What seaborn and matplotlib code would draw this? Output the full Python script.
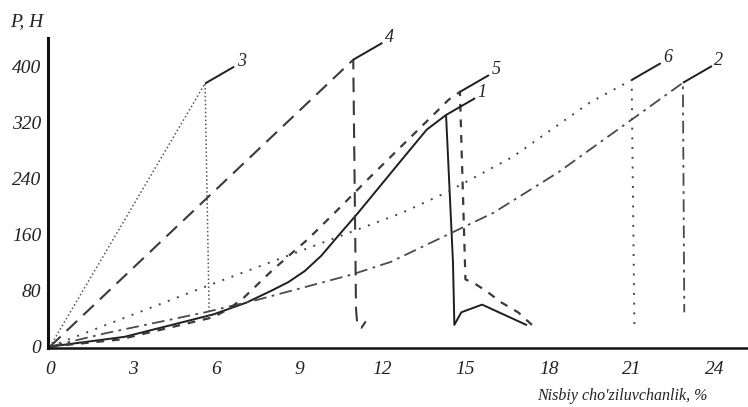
import numpy as np
import pandas as pd
import matplotlib
matplotlib.use("Agg")
import matplotlib.pyplot as plt
import seaborn as sns

# Load-elongation curves of six samples: elongation (%) and load P (N).
# Each series runs up to the break point and then drops.
x1 = [0, 2.7, 5.9, 7.1, 8.0, 8.6, 9.2, 9.8, 10.4, 11.1, 12.7, 13.6, 14.3,
      14.55, 14.6, 14.85, 15.6, 17.2]
p1 = [0, 14, 46, 63, 80, 92, 108, 130, 158, 190, 267, 310, 331,
      120, 31, 49, 60, 31]

x2 = [0, 2.0, 5.6, 7.5, 10.9, 12.3, 16.0, 18.35, 22.85, 22.9]
p2 = [0, 19, 49, 67, 103, 121, 191, 249, 377, 49]

x3 = [0, 5.6, 5.75]
p3 = [0, 376, 43]

x4 = [0, 10.95, 11.05, 11.1, 11.25, 11.4]
p4 = [0, 410, 53, 30, 27, 36]

x5 = [0, 2.5, 5.9, 6.5, 7.0, 7.5, 8.0, 8.6, 9.3, 10.4, 11.5, 14.4, 14.8,
      15.0, 15.3, 15.8, 16.3, 16.9, 17.4]
p5 = [0, 10, 42, 55, 70, 89, 108, 129, 153, 196, 240, 353, 364,
      96, 91, 78, 63, 49, 31]

x6 = [0, 5.5, 12.7, 14.3, 16.7, 19.5, 21.0, 21.1]
p6 = [0, 84, 191, 220, 271, 349, 381, 29]

curve_names = ["1", "2", "3", "4", "5", "6"]
x_ticks = [0, 3, 6, 9, 12, 15, 18, 21, 24]
y_ticks = [0, 80, 160, 240, 320, 400]
x_title = "Nisbiy cho'ziluvchanlik, %"
y_title = "P, H"

series = {"1": (x1, p1), "2": (x2, p2), "3": (x3, p3),
          "4": (x4, p4), "5": (x5, p5), "6": (x6, p6)}

# index of the peak (break) point of every curve
peak_idx = {k: int(np.argmax(v[1])) for k, v in series.items()}

styles = {
    "1": dict(color="#1e1e1e", lw=1.4, ls="-"),
    "2": dict(color="#4a4a4a", lw=1.3, ls=(0, (7, 3, 1.5, 3))),
    "3": dict(color="#555555", lw=1.1, ls=(0, (1, 1.6))),
    "4": dict(color="#3a3a3a", lw=1.5, ls=(0, (7, 4))),
    "5": dict(color="#3a3a3a", lw=1.6, ls=(0, (3.5, 3.5))),
    "6": dict(color="#444444", lw=1.4, ls=(0, (1, 4))),
}

sns.set_theme(style="white")
plt.rcParams["font.family"] = ["Liberation Serif", "DejaVu Serif"]

fig = plt.figure(figsize=(7.48, 4.07), dpi=100)
ax = fig.add_axes([48 / 748, 1 - 348 / 407, 700 / 748, 310 / 407])

frames = []
for name in curve_names:
    xs, ps = series[name]
    frames.append(pd.DataFrame({"x": xs, "P": ps, "curve": name}))
df = pd.concat(frames, ignore_index=True)

for name in curve_names:
    d = df[df["curve"] == name]
    st = styles[name]
    sns.lineplot(data=d, x="x", y="P", sort=False, estimator=None, ax=ax,
                 color=st["color"], linewidth=st["lw"], linestyle=st["ls"], legend=False)

# short solid leaders from the break point with the curve number
lead_dx, lead_dp = 1.05, 24
for name in curve_names:
    xs, ps = series[name]
    i = peak_idx[name]
    x0, y0 = xs[i], ps[i]
    ax.plot([x0, x0 + lead_dx], [y0, y0 + lead_dp], color="#1e1e1e", lw=1.4,
            solid_capstyle="butt")
    ax.text(x0 + lead_dx + 0.25, y0 + lead_dp + 8, name, fontsize=13,
            style="italic", ha="center", va="center", color="#222222")

ax.set_xlim(-0.07, 25.2)
ax.set_ylim(-2, 441)
ax.set_xticks(x_ticks)
ax.set_xticklabels([str(t) for t in x_ticks], fontsize=14, style="italic", color="#222222")
ax.set_yticks(y_ticks)
ax.set_yticklabels([str(t) for t in y_ticks], fontsize=14, style="italic", color="#222222")
ax.tick_params(axis="both", length=0)
ax.tick_params(axis="x", pad=9)
ax.tick_params(axis="y", pad=5)

for side in ["top", "right"]:
    ax.spines[side].set_visible(False)
ax.spines["left"].set_color("#111111")
ax.spines["left"].set_linewidth(2.2)
ax.spines["bottom"].set_color("#111111")
ax.spines["bottom"].set_linewidth(1.8)

ax.set_xlabel(x_title, fontsize=11.5, style="italic", color="#222222")
ax.xaxis.set_label_coords((622 - 48) / 700, -0.13)
ax.set_ylabel("")
ax.text(-0.031, 1.052, y_title, transform=ax.transAxes, fontsize=14,
        style="italic", ha="center", va="center", color="#222222")

fig.savefig("out.png", dpi=100, facecolor="white")
